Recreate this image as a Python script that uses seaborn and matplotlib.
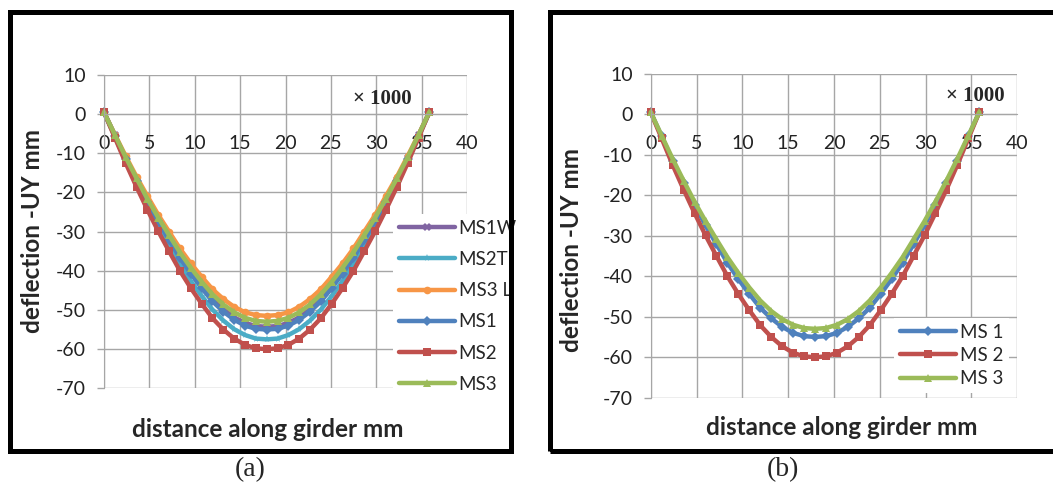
import pandas as pd
import matplotlib
matplotlib.use("Agg")
import matplotlib.pyplot as plt
from matplotlib.patches import Rectangle
import seaborn as sns

# distance along girder (x1000 mm)
distance = [0, 1.2, 2.39, 3.59, 4.78, 5.98, 7.17, 8.37, 9.56, 10.76, 11.95, 13.15, 14.34, 15.54, 16.73,
            17.93, 19.12, 20.32, 21.51, 22.71, 23.9, 25.1, 26.29, 27.49, 28.68, 29.88, 31.07, 32.27,
            33.46, 34.66, 35.85]

# deflection -UY (mm)
ms1w = [0.5, -5.4, -11.3, -16.8, -22.1, -27.1, -31.7, -36.2, -40.2, -43.8, -47.1, -49.8, -51.9, -53.3, -54.1,
        -54.3, -54.1, -53.3, -51.9, -49.8, -47.1, -43.8, -40.2, -36.2, -31.7, -27.1, -22.1, -16.8, -11.3, -5.4, 0.5]
ms2t = [0.5, -5.8, -12.0, -17.8, -23.4, -28.7, -33.5, -38.3, -42.6, -46.4, -49.9, -52.7, -54.9, -56.4, -57.3,
        -57.5, -57.3, -56.4, -54.9, -52.7, -49.9, -46.4, -42.6, -38.3, -33.5, -28.7, -23.4, -17.8, -12.0, -5.8, 0.5]
ms3l = [0.5, -5.2, -10.7, -16.0, -20.9, -25.7, -30.0, -34.3, -38.1, -41.5, -44.7, -47.2, -49.2, -50.6, -51.3,
        -51.5, -51.3, -50.6, -49.2, -47.2, -44.7, -41.5, -38.1, -34.3, -30.0, -25.7, -20.9, -16.0, -10.7, -5.2, 0.5]
ms1 = [0.5, -5.5, -11.5, -17.1, -22.4, -27.4, -32.1, -36.7, -40.7, -44.4, -47.8, -50.4, -52.5, -54.0, -54.8,
       -55.0, -54.8, -54.0, -52.5, -50.4, -47.8, -44.4, -40.7, -36.7, -32.1, -27.4, -22.4, -17.1, -11.5, -5.5, 0.5]
ms2 = [0.5, -6.0, -12.5, -18.6, -24.4, -29.9, -35.0, -40.0, -44.4, -48.4, -52.1, -55.0, -57.3, -58.9, -59.8,
       -60.0, -59.8, -58.9, -57.3, -55.0, -52.1, -48.4, -44.4, -40.0, -35.0, -29.9, -24.4, -18.6, -12.5, -6.0, 0.5]
ms3 = [0.5, -5.3, -11.0, -16.4, -21.6, -26.4, -30.9, -35.3, -39.2, -42.8, -46.0, -48.6, -50.6, -52.0, -52.8,
       -53.0, -52.8, -52.0, -50.6, -48.6, -46.0, -42.8, -39.2, -35.3, -30.9, -26.4, -21.6, -16.4, -11.0, -5.3, 0.5]

namesA = ["MS1W", "MS2T", "MS3 L", "MS1", "MS2", "MS3"]
seriesA = [ms1w, ms2t, ms3l, ms1, ms2, ms3]
namesB = ["MS 1", "MS 2", "MS 3"]
seriesB = [ms1, ms2, ms3]

xTicks = [0, 5, 10, 15, 20, 25, 30, 35, 40]
yTicks = [-70, -60, -50, -40, -30, -20, -10, 0, 10]

colorsA = ["#8064A2", "#4BACC6", "#F79646", "#4F81BD", "#C0504D", "#9BBB59"]
markersA = ["X", "*", "o", "D", "s", "^"]
colorsB = ["#4F81BD", "#C0504D", "#9BBB59"]
markersB = ["D", "s", "^"]

W, H = 1053, 493
GRID = "#A6A6A6"

sns.set_style("white")
plt.rcParams["font.family"] = ["Lato", "DejaVu Sans"]
plt.rcParams["axes.unicode_minus"] = False


def drawPanel(fig, box, names, series, colors, markers, legAnchor, legSpacing, xlabPos, ylabPos):
    ax = fig.add_axes(box)
    frames = [pd.DataFrame({"distance": distance, "deflection": s, "series": n}) for n, s in zip(names, series)]
    df = pd.concat(frames, ignore_index=True)
    sns.lineplot(data=df, x="distance", y="deflection", hue="series", style="series",
                 hue_order=names, style_order=names,
                 palette=dict(zip(names, colors)), markers=dict(zip(names, markers)),
                 dashes=False, sort=False, linewidth=3.2, markersize=5.5, markeredgewidth=0,
                 legend=False, ax=ax)
    for ln in ax.lines:
        ln.set_clip_on(False)

    ax.set_xlim(0, 40)
    ax.set_ylim(-70, 10)
    ax.set_xticks(xTicks)
    ax.set_yticks(yTicks)
    ax.grid(True, color=GRID, linewidth=1.0)
    ax.set_axisbelow(True)
    for side in ["top", "right"]:
        ax.spines[side].set_visible(False)
    ax.spines["bottom"].set_position(("data", 0))
    ax.spines["bottom"].set_color(GRID)
    ax.spines["left"].set_color(GRID)
    ax.tick_params(axis="x", length=0, pad=15, labelsize=14, labelcolor="#222222")
    ax.tick_params(axis="y", length=5, width=1, color=GRID, pad=8, labelsize=14,
                   labelcolor="#222222", left=True)

    ax.set_xlabel("distance along girder mm", fontsize=17.5, fontweight="bold")
    ax.set_ylabel("deflection -UY mm", fontsize=17.5, fontweight="bold")
    ax.xaxis.set_label_coords(*xlabPos)
    ax.yaxis.set_label_coords(*ylabPos)
    ax.xaxis.label.set_va("center")
    ax.yaxis.label.set_va("center")

    leg = ax.legend(ax.lines[:len(names)], names, loc="upper left",
                    bbox_to_anchor=(legAnchor[0] / W, 1 - legAnchor[1] / H),
                    bbox_transform=fig.transFigure, fontsize=13.5, frameon=True,
                    facecolor="white", edgecolor="none", framealpha=1, fancybox=False,
                    borderpad=0.3, borderaxespad=0, handlelength=3.0, handletextpad=0.2,
                    labelspacing=legSpacing, numpoints=1)
    leg.set_zorder(5)
    return ax


fig = plt.figure(figsize=(W / 100, H / 100), dpi=100)

# panel (a)
drawPanel(fig, [104 / W, 1 - 388.3 / H, 363 / W, 313.3 / H], namesA, seriesA, colorsA, markersA,
          (393, 214), 0.76, (0.452, -0.133), (-0.198, 0.502))
# panel (b)
drawPanel(fig, [650.7 / W, 1 - 397.7 / H, 366.6 / W, 324 / H], namesB, seriesB, colorsB, markersB,
          (894, 318), 0.34, (0.522, -0.0935), (-0.2147, 0.456))

for x0, x1 in [(9.5, 510.5), (549.5, 1065)]:
    fig.add_artist(Rectangle((x0 / W, 1 - 451 / H), (x1 - x0) / W, (451 - 11.5) / H,
                             transform=fig.transFigure, fill=False, edgecolor="black",
                             linewidth=3.6, zorder=10))

for cx, cy in [(382, 99), (975, 96)]:
    fig.text(cx / W, 1 - cy / H, "× 1000", family="Liberation Serif", fontweight="bold",
             fontsize=15, ha="center", va="center")

fig.text(250 / W, 1 - 470 / H, "(a)", family="Liberation Serif", fontsize=20, ha="center", va="center")
fig.text(783 / W, 1 - 470 / H, "(b)", family="Liberation Serif", fontsize=20, ha="center", va="center")

fig.savefig("out.png", dpi=100)
